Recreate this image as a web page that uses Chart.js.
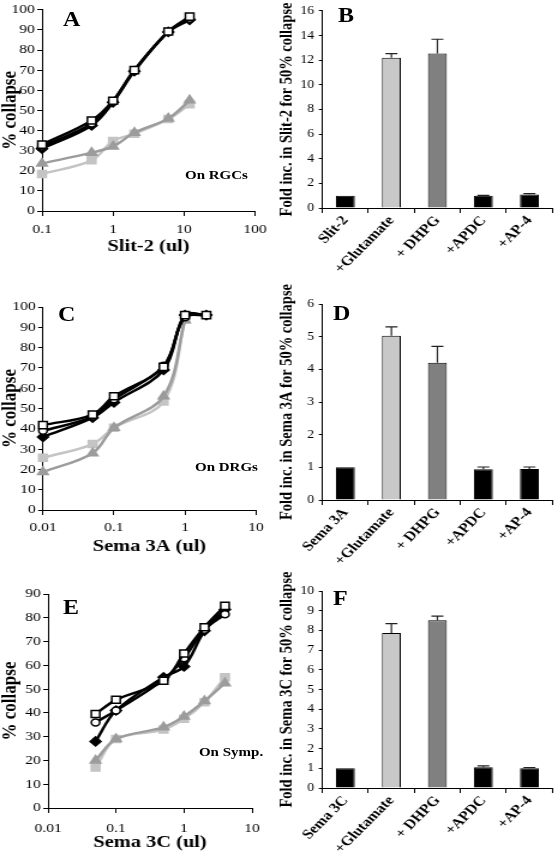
<!DOCTYPE html>
<html>
<head>
<meta charset="utf-8">
<script src="https://cdn.jsdelivr.net/npm/chart.js@4.4.1/dist/chart.umd.min.js"></script>
<style>
  body { margin: 0; background: #fff; }
  #page { position: relative; width: 556px; height: 853px; overflow: hidden;
          font-family: "Liberation Serif", "Times New Roman", serif; }
  /* the source figure is stretched sideways, so everything is drawn narrow and widened */
  #inner { position: absolute; left: 0; top: 0; width: 463.33px; height: 853px;
           transform: scaleX(1.2); transform-origin: 0 0; }
  canvas { position: absolute; }
  .lbl { position: absolute; font-weight: bold; line-height: 1; white-space: nowrap;
         transform: translateY(-50%); color: #000; }
</style>
</head>
<body>
<div id="page"><div id="inner">
  <canvas id="cA" style="left:0;top:0" width="232" height="262"></canvas>
  <canvas id="cB" style="left:231.67px;top:0" width="232" height="280"></canvas>
  <canvas id="cC" style="left:0;top:262px" width="232" height="300"></canvas>
  <canvas id="cD" style="left:231.67px;top:268px" width="232" height="302"></canvas>
  <canvas id="cE" style="left:0;top:555px" width="232" height="298"></canvas>
  <canvas id="cF" style="left:231.67px;top:555px" width="232" height="298"></canvas>

  <div class="lbl" style="left:52.5px;top:19px;font-size:20px">A</div>
  <div class="lbl" style="left:281.7px;top:15px;font-size:20px">B</div>
  <div class="lbl" style="left:48.3px;top:314px;font-size:20px">C</div>
  <div class="lbl" style="left:277.5px;top:313px;font-size:20px">D</div>
  <div class="lbl" style="left:52.5px;top:607px;font-size:20px">E</div>
  <div class="lbl" style="left:277.5px;top:598px;font-size:20px">F</div>
  <div class="lbl" style="left:154.2px;top:175px;font-size:12.5px">On RGCs</div>
  <div class="lbl" style="left:162.5px;top:467px;font-size:12.5px">On DRGs</div>
  <div class="lbl" style="left:165.8px;top:752px;font-size:12.5px">On Symp.</div>
</div></div>
<script>
const FONT = "'Liberation Serif', 'Times New Roman', serif";
Chart.defaults.font.family = FONT;
Chart.defaults.color = '#000';

// A: Slit-2 on RGCs
const slitDoses = [0.1, 0.5, 1, 2, 6, 12];
const slitOpenSq = [33, 45, 54.8, 70, 89.2, 96.6];
const slitOpenCirc = [32, 43.5, 54.5, 70, 89, 95.5];
const slitDiamond = [31, 42.5, 54, 69.5, 89, 95];
const slitGraySq = [18.4, 25.2, 34.8, 38.4, 45.7, 53.1];
const slitTriangle = [23.6, 29, 32.1, 38.9, 46, 55];

// C: Sema 3A on DRGs
const sema3aDoses = [0.01, 0.05, 0.1, 0.5, 1, 2];
const sema3aOpenSq = [41.8, 47, 56, 70.5, 96, 96];
const sema3aOpenCirc = [39, 46, 54.5, 71, 95, 96];
const sema3aDiamond = [36, 45.5, 53, 69, 96, 96];
const sema3aGraySq = [25.7, 32.5, 40.5, 53.5, 94];
const sema3aTriangle = [18.7, 28, 40.5, 56, 93.5];

// E: Sema 3C on sympathetic neurons
const sema3cDoses = [0.05, 0.1, 0.5, 1, 2, 4];
const sema3cOpenSq = [39.5, 45.5, 53.5, 65, 76, 85];
const sema3cOpenCirc = [36, 41, 54, 63, 75, 81.5];
const sema3cDiamond = [28, 41, 55, 59.5, 74.5, 83.5];
const sema3cGraySq = [17, 29, 33, 37.5, 44.5, 55];
const sema3cTriangle = [20, 29, 34, 38.5, 45, 52.5];

// B, D, F: fold increase for 50% collapse
const slitLabels = ['Slit-2', '+Glutamate', '+ DHPG', '+APDC', '+AP-4'];
const slitFold = [1, 12.2, 12.55, 1.0, 1.1];
const slitFoldSd = [0, 0.33, 1.15, 0.03, 0.07];

const sema3aLabels = ['Sema 3A', '+Glutamate', '+ DHPG', '+APDC', '+AP-4'];
const sema3aFold = [1, 5.03, 4.2, 0.94, 0.95];
const sema3aFoldSd = [0, 0.27, 0.5, 0.07, 0.06];

const sema3cLabels = ['Sema 3C', '+Glutamate', '+ DHPG', '+APDC', '+AP-4'];
const sema3cFold = [1, 7.87, 8.52, 1.05, 1.0];
const sema3cFoldSd = [0, 0.47, 0.2, 0.07, 0.04];

const barColors = ['#000000', '#c8c8c8', '#808080', '#000000', '#000000'];

function pts(xs, ys) {
  return ys.map((y, i) => ({ x: xs[i], y: y }));
}

function series(xs, ys, kind) {
  const base = { data: pts(xs, ys), tension: 0.35, borderWidth: 2.5, clip: false,
                 pointBorderWidth: 1.5, pointRadius: 5 };
  if (kind === 'openSq') return Object.assign(base, { borderColor: '#000', pointStyle: 'rect',
      pointBackgroundColor: '#fff', pointBorderColor: '#000' });
  if (kind === 'openCirc') return Object.assign(base, { borderColor: '#000', pointStyle: 'circle',
      pointBackgroundColor: '#fff', pointBorderColor: '#000', pointRadius: 3.5 });
  if (kind === 'diamond') return Object.assign(base, { borderColor: '#000', pointStyle: 'rectRot',
      pointBackgroundColor: '#000', pointBorderColor: '#000', pointRadius: 4.5 });
  if (kind === 'graySq') return Object.assign(base, { borderColor: '#c4c4c4', pointStyle: 'rect',
      pointBackgroundColor: '#c4c4c4', pointBorderColor: '#c4c4c4' });
  return Object.assign(base, { borderColor: '#9c9c9c', pointStyle: 'triangle',
      pointBackgroundColor: '#9c9c9c', pointBorderColor: '#9c9c9c', pointRadius: 5 });
}

function decades(min, max) {
  const out = [];
  for (let v = min; v <= max * 1.001; v *= 10) out.push(+v.toPrecision(1));
  return out;
}

function lineChart(id, box, xMin, xMax, yMax, xTitle, tickPad, titlePad, sets) {
  const c = document.getElementById(id);
  new Chart(c, {
    type: 'line',
    data: { datasets: sets },
    options: {
      responsive: false,
      animation: false,
      devicePixelRatio: 1,
      layout: { padding: { top: box.top, right: c.width - box.right, left: 0, bottom: 0 } },
      plugins: { legend: { display: false }, tooltip: { enabled: false } },
      scales: {
        x: {
          type: 'logarithmic',
          min: xMin,
          max: xMax,
          afterBuildTicks: s => { s.ticks = decades(xMin, xMax).map(v => ({ value: v })); },
          afterFit: s => { s.height = c.height - box.bottom; },
          ticks: { callback: v => String(v), font: { size: 13 }, padding: tickPad,
                   maxRotation: 0, autoSkip: false },
          grid: { drawOnChartArea: false, tickLength: 5, color: '#000' },
          border: { color: '#000', width: 1 },
          title: { display: true, text: xTitle, font: { size: 17, weight: 'bold' },
                   padding: { top: 0, bottom: titlePad } }
        },
        y: {
          min: 0,
          max: yMax,
          afterFit: s => { s.width = box.left; },
          ticks: { stepSize: 10, font: { size: 13 }, padding: 2 },
          grid: { drawOnChartArea: false, tickLength: 4, color: '#000' },
          border: { color: '#000', width: 1 },
          title: { display: true, text: '% collapse', font: { size: 17, weight: 'bold', lineHeight: 1 },
                   padding: { top: 0.5, bottom: 0 } }
        }
      }
    }
  });
}

const errorBars = {
  id: 'errorBars',
  afterDatasetsDraw(chart, args, opts) {
    const sds = opts.sds;
    const vals = chart.data.datasets[0].data;
    const y = chart.scales.y;
    const ctx = chart.ctx;
    ctx.save();
    ctx.strokeStyle = '#222';
    ctx.lineWidth = 1.2;
    chart.getDatasetMeta(0).data.forEach((bar, i) => {
      if (!sds[i]) return;
      const top = y.getPixelForValue(vals[i] + sds[i]);
      ctx.beginPath();
      ctx.moveTo(bar.x, bar.y);
      ctx.lineTo(bar.x, top);
      ctx.moveTo(bar.x - 5, top);
      ctx.lineTo(bar.x + 5, top);
      ctx.stroke();
    });
    ctx.restore();
  }
};

function barChart(id, box, labels, vals, sds, yMax, step, yTitle) {
  const c = document.getElementById(id);
  new Chart(c, {
    type: 'bar',
    data: {
      labels: labels,
      datasets: [{ data: vals, backgroundColor: barColors, borderColor: '#000', borderWidth: 1,
                   barPercentage: 0.41, categoryPercentage: 1 }]
    },
    plugins: [errorBars],
    options: {
      responsive: false,
      animation: false,
      devicePixelRatio: 1,
      layout: { padding: { top: box.top, right: c.width - box.right, left: 0, bottom: 0 } },
      plugins: { legend: { display: false }, tooltip: { enabled: false }, errorBars: { sds: sds } },
      scales: {
        x: {
          afterFit: s => { s.height = c.height - box.bottom; },
          ticks: { font: { size: 13.5, weight: 'bold' }, minRotation: 50, maxRotation: 50,
                   padding: 0, autoSkip: false },
          grid: { offset: true, drawOnChartArea: false, tickLength: 5, color: '#000' },
          border: { color: '#000', width: 1 }
        },
        y: {
          min: 0,
          max: yMax,
          afterFit: s => { s.width = box.left; },
          ticks: { stepSize: step, font: { size: 11.5 }, padding: 4 },
          grid: { drawOnChartArea: false, tickLength: 3, color: '#000' },
          border: { color: '#000', width: 1 },
          title: { display: true, text: yTitle, font: { size: 14.5, weight: 'bold', lineHeight: 1.05 },
                   padding: { top: 0, bottom: 0 } }
        }
      }
    }
  });
}

lineChart('cA', { left: 35, top: 8, right: 212.5, bottom: 211 }, 0.1, 100, 100, 'Slit-2 (ul)', 6, 5, [
  series(slitDoses, slitOpenSq, 'openSq'),
  series(slitDoses, slitOpenCirc, 'openCirc'),
  series(slitDoses, slitDiamond, 'diamond'),
  series(slitDoses, slitTriangle, 'triangle'),
  series(slitDoses, slitGraySq, 'graySq')
]);

lineChart('cC', { left: 35.8, top: 45, right: 213.3, bottom: 248 }, 0.01, 10, 100, 'Sema 3A (ul)', 5, 5, [
  series(sema3aDoses, sema3aOpenSq, 'openSq'),
  series(sema3aDoses, sema3aOpenCirc, 'openCirc'),
  series(sema3aDoses, sema3aDiamond, 'diamond'),
  series(sema3aDoses, sema3aTriangle, 'triangle'),
  series(sema3aDoses, sema3aGraySq, 'graySq')
]);

lineChart('cE', { left: 40, top: 39, right: 210, bottom: 253 }, 0.01, 10, 90, 'Sema 3C (ul)', 8, 0, [
  series(sema3cDoses, sema3cOpenSq, 'openSq'),
  series(sema3cDoses, sema3cOpenCirc, 'openCirc'),
  series(sema3cDoses, sema3cDiamond, 'diamond'),
  series(sema3cDoses, sema3cTriangle, 'triangle'),
  series(sema3cDoses, sema3cGraySq, 'graySq')
]);

barChart('cB', { left: 36.67, top: 10, right: 228.3, bottom: 208 }, slitLabels, slitFold, slitFoldSd,
  16, 2, 'Fold inc. in Slit-2 for 50% collapse');
barChart('cD', { left: 36.67, top: 36, right: 228.3, bottom: 232 }, sema3aLabels, sema3aFold, sema3aFoldSd,
  6, 1, 'Fold inc. in Sema 3A for 50% collapse');
barChart('cF', { left: 36.67, top: 36, right: 228.3, bottom: 233 }, sema3cLabels, sema3cFold, sema3cFoldSd,
  10, 1, 'Fold inc. in Sema 3C for 50% collapse');
</script>
</body>
</html>
